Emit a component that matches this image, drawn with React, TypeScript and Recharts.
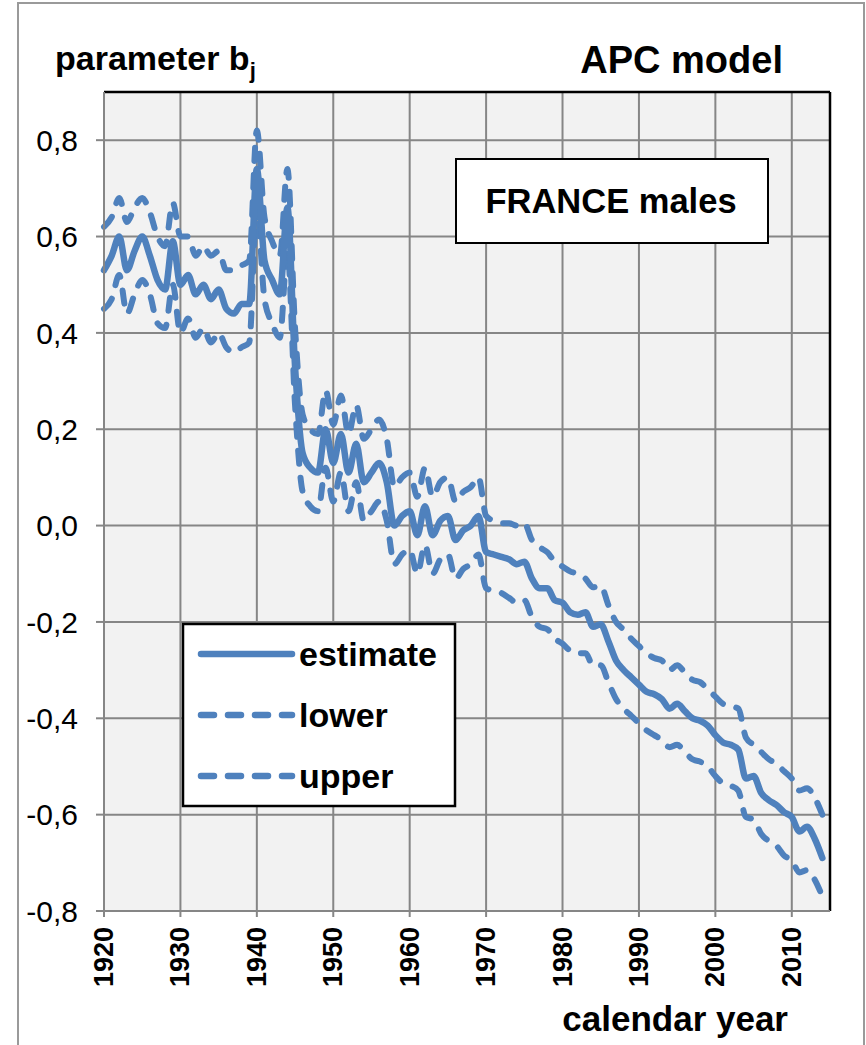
import React from "react";
import { LineChart, Line, XAxis, YAxis, CartesianGrid, ReferenceLine } from "recharts";

const BLUE = "#4F81BD";
const FONT = "'Liberation Sans', Arial, sans-serif";

const years = Array.from({ length: 95 }, (_, i) => 1920 + i);

const estimate = [
  0.53, 0.56, 0.6, 0.53, 0.57, 0.6, 0.56, 0.51, 0.49, 0.59,
  0.5, 0.52, 0.48, 0.5, 0.47, 0.49, 0.45, 0.44, 0.46, 0.46,
  0.74, 0.55, 0.51, 0.48, 0.66, 0.33, 0.15, 0.12, 0.11, 0.2,
  0.13, 0.19, 0.11, 0.17, 0.09, 0.11, 0.13, 0.09, 0.0, 0.02,
  0.03, -0.02, 0.04, -0.02, 0.01, 0.02, -0.03, -0.01, 0.0, 0.02,
  -0.055, -0.06, -0.065, -0.07, -0.08, -0.075, -0.11, -0.13, -0.13, -0.155,
  -0.16, -0.18, -0.185, -0.18, -0.21, -0.205, -0.24, -0.28, -0.3, -0.315,
  -0.33, -0.345, -0.35, -0.36, -0.38, -0.37, -0.385, -0.4, -0.405, -0.415,
  -0.435, -0.45, -0.455, -0.465, -0.525, -0.52, -0.555, -0.57, -0.58, -0.595,
  -0.605, -0.635, -0.625, -0.65, -0.69,
];

const upper = [
  0.62, 0.64, 0.68, 0.63, 0.66, 0.68, 0.65, 0.6, 0.58, 0.67,
  0.6, 0.6, 0.56, 0.58, 0.56, 0.57, 0.53, 0.53, 0.54, 0.55,
  0.82, 0.64, 0.59, 0.56, 0.74, 0.41, 0.23, 0.2, 0.19, 0.28,
  0.21, 0.27, 0.19, 0.25, 0.18, 0.2, 0.22, 0.18, 0.08, 0.1,
  0.11, 0.06, 0.12, 0.06, 0.09, 0.1, 0.05, 0.07, 0.08, 0.1,
  0.02, 0.01, 0.005, 0.005, 0.0, 0.005, -0.03, -0.045, -0.055, -0.075,
  -0.085, -0.095, -0.1, -0.11, -0.128, -0.125, -0.165, -0.2, -0.216, -0.235,
  -0.25, -0.265, -0.275, -0.28, -0.3, -0.29, -0.305, -0.32, -0.325, -0.34,
  -0.355, -0.37, -0.375, -0.38, -0.44, -0.455, -0.47, -0.485, -0.495, -0.51,
  -0.525, -0.55, -0.545, -0.565, -0.6,
];

const lower = [
  0.45, 0.47, 0.52, 0.44, 0.48, 0.51, 0.48, 0.42, 0.41, 0.5,
  0.4, 0.43, 0.39, 0.41, 0.38, 0.4, 0.37, 0.36, 0.37, 0.38,
  0.66, 0.47, 0.42, 0.39, 0.57, 0.25, 0.07, 0.04, 0.03, 0.12,
  0.05, 0.11, 0.03, 0.09, 0.01, 0.03, 0.05, 0.01, -0.08, -0.06,
  -0.05, -0.1, -0.04, -0.1, -0.07, -0.06, -0.11, -0.09, -0.08, -0.06,
  -0.13, -0.135, -0.14, -0.15, -0.16, -0.155, -0.19, -0.21, -0.215, -0.235,
  -0.245, -0.26, -0.265, -0.265, -0.29, -0.29, -0.325, -0.36, -0.38, -0.395,
  -0.41, -0.425, -0.435, -0.445, -0.46, -0.455, -0.47, -0.485, -0.49, -0.5,
  -0.52, -0.535, -0.54, -0.55, -0.605, -0.61, -0.64, -0.655, -0.665, -0.685,
  -0.695, -0.72, -0.715, -0.735, -0.77,
];

const xTicks = [1920, 1930, 1940, 1950, 1960, 1970, 1980, 1990, 2000, 2010];
const yTicks = [-0.8, -0.6, -0.4, -0.2, 0, 0.2, 0.4, 0.6, 0.8];

const legendItems = [
  { name: "estimate", dash: undefined as string | undefined },
  { name: "lower", dash: "13 14" },
  { name: "upper", dash: "13 14" },
];

const data = years.map((year, i) => ({
  year,
  estimate: estimate[i],
  lower: lower[i],
  upper: upper[i],
}));

const XTick = (props: any) => {
  const { x, y, payload } = props;
  return (
    <text
      x={x}
      y={y}
      transform={`rotate(-90, ${x}, ${y})`}
      textAnchor="end"
      dominantBaseline="central"
      fontFamily={FONT}
      fontWeight="bold"
      fontSize={27}
      fill="#000"
    >
      {payload.value}
    </text>
  );
};

const App = () => {
  return (
    <div style={{ position: "absolute", left: 0, top: 0, width: 866, height: 1045, background: "#fff", overflow: "hidden" }}>
      <div
        style={{
          position: "absolute",
          left: 17,
          top: 2,
          width: 844,
          height: 1060,
          border: "2px solid #9a9a9a",
        }}
      />
      <LineChart
        width={866}
        height={1045}
        data={data}
        margin={{ top: 92, right: 36, bottom: 54, left: 24 }}
        style={{ position: "absolute", left: 0, top: 0 }}
      >
        <CartesianGrid stroke="#868686" strokeWidth={2} fill="#f2f2f2" />
        <XAxis
          dataKey="year"
          type="number"
          domain={[1920, 2015]}
          ticks={xTicks}
          height={80}
          tickSize={6}
          tickMargin={10}
          axisLine={{ stroke: "#868686", strokeWidth: 2 }}
          tickLine={{ stroke: "#868686", strokeWidth: 2 }}
          tick={<XTick />}
          interval={0}
        />
        <YAxis
          type="number"
          domain={[-0.8, 0.9]}
          ticks={yTicks}
          width={80}
          tickSize={8}
          tickMargin={18}
          allowDataOverflow
          axisLine={{ stroke: "#868686", strokeWidth: 2 }}
          tickLine={{ stroke: "#868686", strokeWidth: 2 }}
          tick={{ fill: "#000", fontSize: 30, fontFamily: FONT }}
          tickFormatter={(v: number) => v.toFixed(1).replace(".", ",")}
          interval={0}
        />
        <ReferenceLine y={0.9} stroke="#000" strokeWidth={2.5} />
        <ReferenceLine x={2015} stroke="#000" strokeWidth={2.5} />
        <Line
          dataKey="lower"
          type="monotone"
          stroke={BLUE}
          strokeWidth={6}
          strokeDasharray="13 14"
          strokeLinecap="round"
          dot={false}
          isAnimationActive={false}
        />
        <Line
          dataKey="upper"
          type="monotone"
          stroke={BLUE}
          strokeWidth={6}
          strokeDasharray="13 14"
          strokeLinecap="round"
          dot={false}
          isAnimationActive={false}
        />
        <Line
          dataKey="estimate"
          type="monotone"
          stroke={BLUE}
          strokeWidth={6.5}
          strokeLinecap="round"
          dot={false}
          isAnimationActive={false}
        />
      </LineChart>
      <svg
        width={866}
        height={1045}
        style={{ position: "absolute", left: 0, top: 0, pointerEvents: "none" }}
        fontFamily={FONT}
      >
        <text x={55} y={70} fontSize={34} fontWeight="bold" fill="#000">
          parameter b
          <tspan fontSize={22} dy={8}>j</tspan>
        </text>
        <text x={783} y={73} fontSize={38} fontWeight="bold" fill="#000" textAnchor="end">
          APC model
        </text>
        <rect x={456} y={159} width={312} height={84} fill="#fff" stroke="#000" strokeWidth={2} />
        <text x={611} y={213} fontSize={34.5} fontWeight="bold" fill="#000" textAnchor="middle">
          FRANCE males
        </text>
        <rect x={183} y={624} width={272} height={182} fill="#fff" stroke="#000" strokeWidth={2.5} />
        {legendItems.map((item, i) => {
          const cy = 654 + i * 61;
          return (
            <g key={item.name}>
              <line
                x1={201}
                x2={292}
                y1={cy}
                y2={cy}
                stroke={BLUE}
                strokeWidth={6.5}
                strokeLinecap="round"
                strokeDasharray={item.dash}
              />
              <text x={299} y={cy + 12} fontSize={34} fontWeight="bold" fill="#000">
                {item.name}
              </text>
            </g>
          );
        })}
        <text x={788} y={1031} fontSize={35} fontWeight="bold" fill="#000" textAnchor="end">
          calendar year
        </text>
      </svg>
    </div>
  );
};

export default App;
